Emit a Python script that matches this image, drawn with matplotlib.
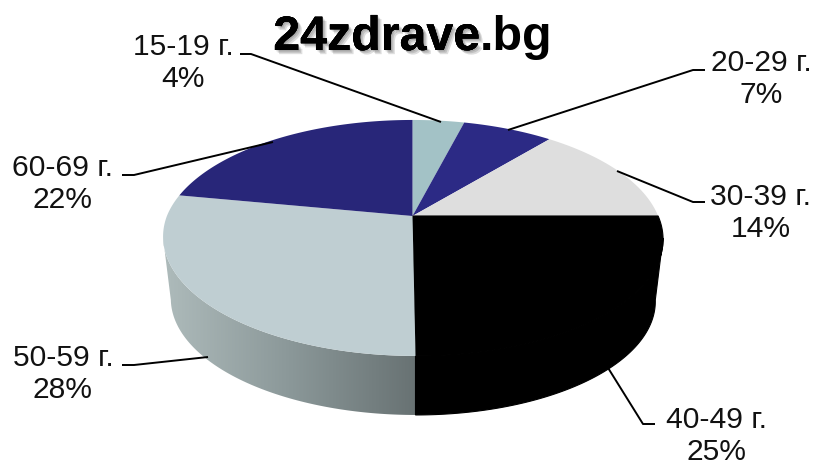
import numpy as np
import matplotlib
matplotlib.use("Agg")
import matplotlib.pyplot as plt
import matplotlib.patheffects as pe
from matplotlib.colors import LinearSegmentedColormap
from matplotlib.patches import Polygon

plt.rcParams['font.family'] = ['Liberation Sans', 'DejaVu Sans']

# ---------- Data ----------
labels = ['15-19 г.', '20-29 г.', '30-39 г.', '40-49 г.', '50-59 г.', '60-69 г.']
shares = [4, 7, 14, 25, 28, 22]
colors = ['#a3c2c6', '#2c2a85', '#dedede', '#000000', '#bfced2', '#282679']

# label centre, then leader line points (pixels of the picture)
label_pos = [(183, 63), (761, 79), (761, 213), (717, 436), (63, 374), (63, 184)]
leaders = [
    [(240, 54), (251, 54), (441, 122)],
    [(705, 70), (693, 70), (508, 130)],
    [(705, 202), (693, 202), (617, 171)],
    [(655, 424), (643, 424), (605, 363)],
    [(122, 365), (134, 365), (208, 357)],
    [(122, 175), (134, 175), (273, 142)],
]

# ---------- Perspective ----------
TILT = 0.186
TOP = dict(cx=412.5, cy=216, a=245.6, b=113.9)
BOTTOM = dict(cx=412.5, cy=278.6, a=238, b=111)


def project(theta, cx, cy, a, b):
    """theta clockwise from 12 o'clock, in radians."""
    u, v = np.sin(theta), np.cos(theta)
    s = 1 / (1 + TILT * v)
    # the front of the pie leans a little to the right
    return cx + a * u * s + 3 * np.clip(-v, 0, 1), cy - b * v * s


def arc(start, end, plane, n=200):
    return np.column_stack(project(np.linspace(start, end, n), **plane))


fig = plt.figure(figsize=(8.15, 4.66), dpi=100)
ax = fig.add_axes([0, 0, 1, 1])

edges = 2 * np.pi * np.cumsum([0] + shares) / sum(shares)

# ---------- Side wall ----------
# the wall runs between the two silhouette points of the ellipses
turn = np.arcsin(TILT)

# 50-59 side with a grey gradient
side_start, side_end = edges[4], 1.5 * np.pi - turn
wall = np.vstack([arc(side_start, side_end, TOP),
                  arc(side_end, side_start, BOTTOM)])
grad = LinearSegmentedColormap.from_list('side', ['#aebbbb', '#8b9899', '#687273'])
img = ax.imshow(np.linspace(0, 1, 256)[None, :], cmap=grad, aspect='auto',
                extent=(wall[:, 0].min(), wall[:, 0].max(), 420, 230), zorder=1)
clip = Polygon(wall, transform=ax.transData, fc='none', ec='none')
ax.add_patch(clip)
img.set_clip_path(clip)

# 40-49 side, black
black_start, black_end = np.pi / 2 + turn, edges[4]
wall = np.vstack([arc(black_start, black_end, TOP),
                  arc(black_end, black_start, BOTTOM)])
ax.add_patch(Polygon(wall, fc='black', ec='black', lw=0.8, zorder=1))

# ---------- Top face ----------
centre = [(TOP['cx'], TOP['cy'])]
for i, color in enumerate(colors):
    pts = np.vstack([centre, arc(edges[i], edges[i + 1], TOP)])
    ax.add_patch(Polygon(pts, fc=color, ec=color if color == '#000000' else 'none',
                         lw=0.8, zorder=2))

# ---------- Labels ----------
for name, share, pos, line in zip(labels, shares, label_pos, leaders):
    ax.text(pos[0], pos[1], f'{name}\n{share}%', ha='center', va='center',
            fontsize=21.6, color='#111111', linespacing=1.15, zorder=4)
    xs, ys = zip(*line)
    ax.plot(xs, ys, color='black', lw=1.4, zorder=3, solid_capstyle='butt')

# ---------- Title ----------
shadow = [pe.withSimplePatchShadow(offset=(d, -d), shadow_rgbFace='black', alpha=0.13)
          for d in (1, 2, 3)]
ax.text(480, 50, '24zdrave', ha='right', va='baseline', fontsize=34.8,
        fontweight='bold', color='black', zorder=5,
        path_effects=shadow + [pe.Normal()])
ax.text(480, 50, '.bg', ha='left', va='baseline', fontsize=34.8,
        fontweight='bold', color='black', zorder=5)

ax.set_xlim(0, 815)
ax.set_ylim(466, 0)
ax.axis('off')

fig.savefig('out.png', dpi=100)
